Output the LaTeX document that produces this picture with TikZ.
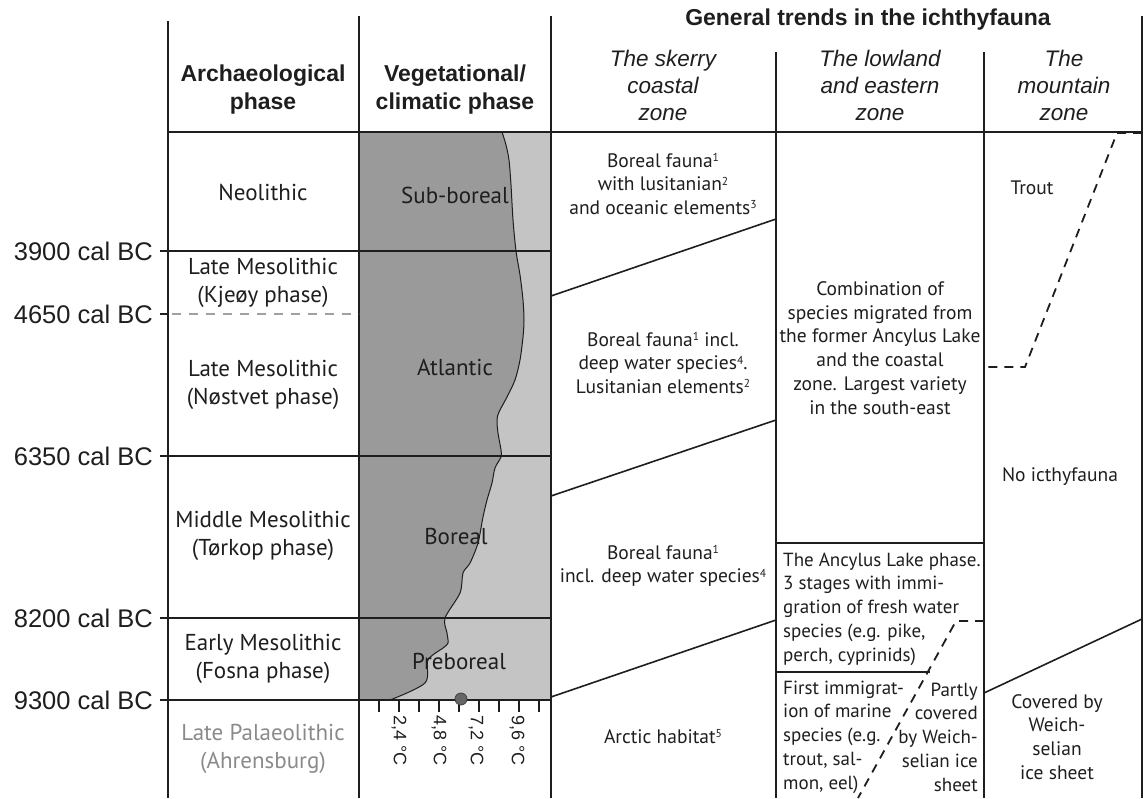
\documentclass[tikz,border=0pt]{standalone}
\usepackage{fontspec}
\setmainfont{PT Sans}
\newfontfamily\arialf{Liberation Sans}
\definecolor{darkveg}{HTML}{9A9A9A}
\definecolor{lightveg}{HTML}{C4C4C4}
\definecolor{ink}{HTML}{1E1E1E}
\definecolor{palaeo}{HTML}{8A8A8A}
\tikzset{
  gridline/.style={line width=2pt, draw=ink},
  slantline/.style={line width=1.6pt, draw=ink},
  dashline/.style={line width=1.8pt, draw=ink, dash pattern=on 9pt off 7pt},
  body/.style={font=\fontsize{19.5}{23.8}\selectfont, text=ink, inner sep=0pt},
  bodysm/.style={font=\fontsize{19}{23.8}\selectfont, text=ink, inner sep=0pt},
  arch/.style={font=\fontsize{23}{28.5}\selectfont, text=ink, align=center, inner sep=0pt},
  hdr/.style={font=\arialf\bfseries\fontsize{23}{28}\selectfont, text=ink, align=center, inner sep=0pt},
  zhdr/.style={font=\arialf\itshape\fontsize{22.5}{27}\selectfont, text=ink, align=center, inner sep=0pt},
  datelbl/.style={font=\arialf\fontsize{25.5}{30}\selectfont, text=ink, anchor=east, inner sep=0pt},
  templbl/.style={font=\arialf\fontsize{18}{20}\selectfont, text=ink, rotate=-90, anchor=west, inner sep=0pt},
}
\newcommand{\sps}[1]{\raisebox{0.6ex}{\fontsize{11.5}{12}\selectfont #1}}
\begin{document}
\begin{tikzpicture}[x=1pt,y=-1pt]
\useasboundingbox (0,0) rectangle (1145,798);
% vegetation column fill
\fill[lightveg] (359,132) rectangle (551,700);
\fill[darkveg] (359,132) -- (502,132) -- plot[smooth, tension=0.5] coordinates {(502,132) (506,145) (509,160) (511,185) (513,220) (516,251) (520,275) (523,300) (524,320) (523,337) (520,360) (515,380) (507,397) (499,412) (497,420) (498,433) (501,450) (501,457) (495,468) (492,483) (487,500) (483,517) (478,543) (470,563) (463,573) (460,593) (445,618) (447,633) (448,643) (443,648) (428,660) (425,683) (390,700)} -- (359,700) -- cycle;
\draw[line width=1pt, draw=ink] plot[smooth, tension=0.5] coordinates {(502,132) (506,145) (509,160) (511,185) (513,220) (516,251) (520,275) (523,300) (524,320) (523,337) (520,360) (515,380) (507,397) (499,412) (497,420) (498,433) (501,450) (501,457) (495,468) (492,483) (487,500) (483,517) (478,543) (470,563) (463,573) (460,593) (445,618) (447,633) (448,643) (443,648) (428,660) (425,683) (390,700)};
% vertical grid lines
\draw[gridline] (168,21) -- (168,798);
\draw[gridline] (359,16) -- (359,798);
\draw[gridline] (551,16) -- (551,798);
\draw[gridline] (776,52) -- (776,798);
\draw[gridline] (984,52) -- (984,798);
\draw[gridline] (1142,16) -- (1142,798);
% horizontal grid lines
\draw[line width=2.5pt, draw=ink] (168,132) -- (1142,132);
\draw[gridline] (160,251) -- (551,251);
\draw[line width=1.6pt, draw=ink] (160,314) -- (168,314);
\draw[line width=1.4pt, draw=palaeo!80, dash pattern=on 9pt off 8pt] (172,314) -- (359,314);
\draw[gridline] (160,456) -- (551,456);
\draw[gridline] (160,618) -- (551,618);
\draw[gridline] (160,700) -- (551,700);
% temperature ticks
\foreach \tx in {379,399,...,539} \draw[line width=1.6pt, draw=ink] (\tx,700) -- (\tx,712);
\node[circle, fill=black!60, draw=black!75, line width=0.8pt, minimum size=12pt, inner sep=0pt] (dot) at (461,699) {};
\node[templbl] (t1) at (399,715) {2,4 °C};
\node[templbl] (t2) at (439,715) {4,8 °C};
\node[templbl] (t3) at (476,715) {7,2 °C};
\node[templbl] (t4) at (517,715) {9,6 °C};
% skerry slanted lines
\draw[slantline] (551,296) -- (776,219);
\draw[slantline] (551,496) -- (776,420);
\draw[slantline] (551,697) -- (776,620);
% lowland lines
\draw[gridline] (776,543) -- (984,543);
\draw[gridline] (776,672) -- (930,672);
\draw[dashline] (984,621) -- (956,621) -- (858,798);
% mountain lines
\draw[dashline] (1142,133) -- (1117,133) -- (1025,367) -- (984,367);
\draw[slantline] (984,693) -- (1142,619);
% headers
\node[hdr] (hArch) at (263,90) {Archaeological\\phase};
\node[hdr] (hVeg) at (455,90) {Vegetational/\\climatic phase};
\node[hdr] (hGen) at (868,20) {General trends in the ichthyfauna};
\node[zhdr] (hSk) at (663,85) {The skerry\\coastal\\zone};
\node[zhdr] (hLo) at (880,85) {The lowland\\and eastern\\zone};
\node[zhdr] (hMo) at (1064,85) {The\\mountain\\zone};
% dates
\node[datelbl] (d1) at (153,251) {3900 cal BC};
\node[datelbl] (d2) at (153,314) {4650 cal BC};
\node[datelbl] (d3) at (153,456) {6350 cal BC};
\node[datelbl] (d4) at (153,618) {8200 cal BC};
\node[datelbl] (d5) at (153,700) {9300 cal BC};
% archaeological phases
\node[arch] (a1) at (263,192) {Neolithic};
\node[arch] (a2) at (263,283) {Late Mesolithic\\(Kjeøy phase)};
\node[arch] (a3) at (263,385) {Late Mesolithic\\(Nøstvet phase)};
\node[arch] (a4) at (263,536) {Middle Mesolithic\\(Tørkop phase)};
\node[arch] (a5) at (263,659) {Early Mesolithic\\(Fosna phase)};
\node[arch, text=palaeo] (a6) at (263,749) {Late Palaeolithic\\(Ahrensburg)};
% vegetation phases
\node[arch] (v1) at (455,195) {Sub-boreal};
\node[arch] (v2) at (455,367) {Atlantic};
\node[arch] (v3) at (456,536) {Boreal};
\node[arch] (v4) at (459,661) {Preboreal};
% skerry zone
\node[body, align=center] (s1) at (663,184) {Boreal fauna\sps{1}\\with lusitanian\sps{2}\\and oceanic elements\sps{3}};
\node[body, align=center] (s2) at (663,363) {Boreal fauna\sps{1} incl.\\deep water species\sps{4}.\\Lusitanian elements\sps{2}};
\node[body, align=center] (s3) at (663,566) {Boreal fauna\sps{1}\\incl. deep water species\sps{4}};
\node[body, align=center] (s4) at (663,737) {Arctic habitat\sps{5}};
% lowland zone
\node[body, align=center] (l1) at (880,348) {Combination of\\species migrated from\\the former Ancylus Lake\\and the coastal\\zone. Largest variety\\in the south-east};
\node[bodysm, align=left, anchor=west] (l2) at (783,609) {The Ancylus Lake phase.\\3 stages with immi-\\gration of fresh water\\species (e.g. pike,\\perch, cyprinids)};
\node[bodysm, align=left, anchor=west] (l3) at (783,737) {First immigrat-\\ion of marine\\species (e.g.\\trout, sal-\\mon, eel)};
\node[bodysm, align=right, anchor=east] (l4) at (978,737) {Partly\\covered\\by Weich-\\selian ice\\sheet};
% mountain zone
\node[body] (m1) at (1032,188) {Trout};
\node[body] (m2) at (1060,477) {No icthyfauna};
\node[body, align=center] (m3) at (1057,737) {Covered by\\Weich-\\selian\\ice sheet};
\end{tikzpicture}
\end{document}
